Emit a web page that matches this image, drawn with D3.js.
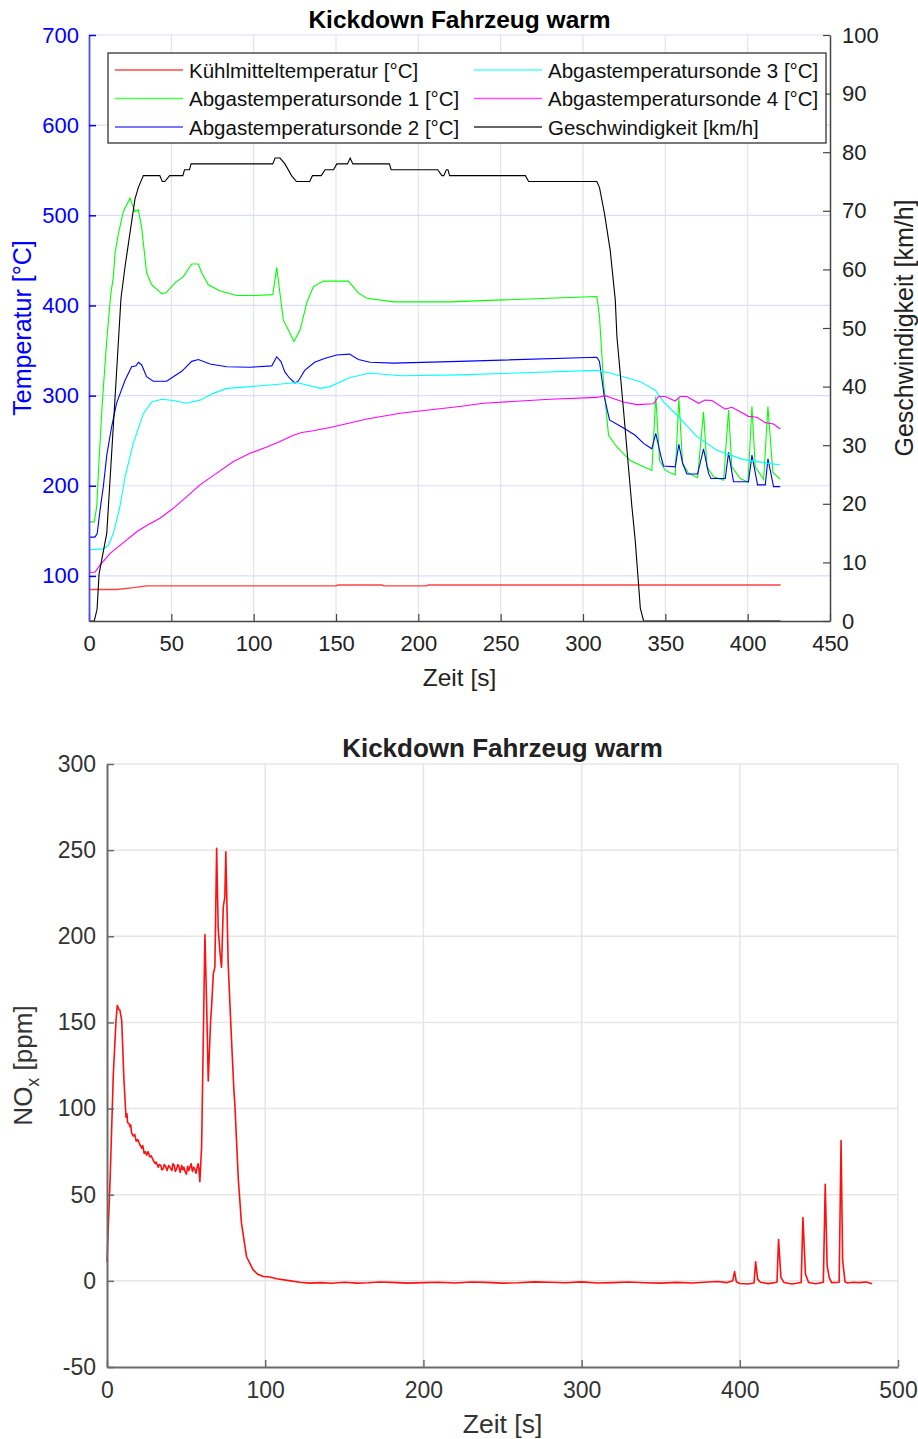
<!DOCTYPE html>
<html>
<head>
<meta charset="utf-8">
<script src="https://cdn.jsdelivr.net/npm/d3@7"></script>
<style>
  body { margin: 0; background: #fff; }
  svg { display: block; font-family: "Liberation Sans", Arial, sans-serif; }
</style>
</head>
<body>
<svg id="chart" width="918" height="1439"></svg>
<script>
// ---- data: top chart (time [s], value) ----
const kuehlmittel = [[0,85],[17,85],[27,87],[35,89],[150,89],[151,90],[178,90],[179,89],[205,89],[206,90],[420,90]];
const sonde1 = [[0,160],[3.2,160],[4.7,177],[6,225],[8,290],[10.8,362],[13.2,412],[14.8,432],[15.8,458],[17.8,479],[20.8,504],[24.9,519],[27.9,504],[30,506],[32,486],[35,436],[38,423],[44.2,413],[46.8,414],[52.2,425],[57.3,432],[62.4,446],[66.4,446],[68.5,436],[72.5,423],[79.6,416],[89.7,411],[99.8,411],[111.6,412],[114,442],[118,384],[121,373],[124.5,360],[128.2,373],[131.2,395],[132.2,403],[136.3,421],[142.3,427],[157.5,427],[163.6,414],[168.7,408],[184.9,404],[219,404],[308.4,410],[310,388],[312.5,314],[315.5,256],[320.6,243],[328.7,228],[336.8,221],[341.8,217],[344.2,299],[346.5,228],[350,217],[356,212],[358.2,297],[360.5,225],[364,214],[369.6,209],[373.2,282],[375.3,221],[379.3,210],[385.4,206],[388.4,284],[390.4,221],[395.5,208],[400.2,204],[402.6,288],[404.6,221],[409.7,207],[412.3,288],[415.3,215],[419.8,207]];
const sonde2 = [[0,143],[3.6,143],[5,147],[6.7,173],[8.7,199],[10.8,234],[13.8,266],[16.8,292],[21.9,317],[25.9,332],[28.6,333],[30,337],[32,334],[35,321],[39,316],[47.2,316],[51.2,321],[56.3,327],[62.4,338],[66.4,340],[73.5,335],[83.6,332],[97.8,331.5],[111,333],[114,343],[116.5,338],[119,326],[122,319],[125,314],[127,316],[131,328],[137,337],[143.4,341.5],[150.5,345],[158.2,346],[163.6,340],[170.7,337],[184.9,336],[225,338],[308.4,342.5],[310,338],[312.9,299],[316.1,273],[324.6,264],[331.7,256],[336.8,247],[341.8,241],[344.2,258],[347.3,233],[348.9,222],[356,221],[358.2,246],[360.5,225],[363.1,213],[369.6,213],[373.2,241],[376.2,214],[377.7,208],[386.4,208],[388.4,237],[391.4,204.5],[400.5,204.5],[402.6,234],[406,201],[410.7,201],[412.3,230],[415.7,199],[419.8,199]];
const sonde3 = [[0,129],[8.7,130],[11.7,134],[14.8,147],[18.8,177],[21.9,210],[26.9,247],[33,280],[38.1,293],[44.2,296],[51.2,294.5],[59.4,291.5],[67.4,295],[75.5,302.5],[83.7,308],[97.8,310],[112,312],[126.2,314.5],[140.3,308],[146.4,310],[158.6,320],[170.7,325],[189,322],[225,323],[308.4,328],[316.5,325],[334.8,315.5],[343.9,306],[348.9,293],[357,278.5],[369.2,254.5],[381.3,239.5],[397.5,229],[419.8,223]];
const sonde4 = [[0,104],[3.6,104],[6.7,112],[12.8,125],[20.9,137],[29,149],[35,156],[43.1,164],[51.2,175],[59.4,188],[67.4,201],[77.6,214],[87.7,227],[97.8,236],[108,243],[116,249],[124.1,256],[129.2,259],[136.3,261],[148.5,265.5],[168.7,274],[189,280.5],[225,288],[239.6,291.5],[280,296],[308.4,298],[313.5,300],[316.5,298],[324.6,293],[332.7,290],[342.8,291],[345.9,299],[349.9,299],[356,294],[359,299],[363.1,299],[370.2,291.5],[374.2,295],[378.3,294.5],[386.4,285],[390.4,287],[395.5,282],[400.5,277],[405.6,276],[410.7,270],[415.7,268.5],[419.8,263]];
const geschw = [[0,0],[3.2,0],[4.9,2],[6.1,8],[10.8,15],[15.8,38],[19.4,55],[21.9,60.5],[27.9,72],[30,74],[33,76],[43,76],[44.5,75],[46,75],[49,76],[57,76],[58,77],[61,77],[62,78],[111.6,78],[113,79],[116,79],[119,78],[123,76],[126,75],[134,75],[135.7,76],[141,76],[143.4,77],[148.5,77],[150.5,78],[157,78],[158.6,79],[160.2,78],[182.4,78],[183.5,77],[211.8,77],[214.3,76],[215.5,76],[217,77],[218,77],[219,76],[265,76],[267,75],[308.4,75],[310,74],[313,69.6],[316.5,63.3],[319.6,54.8],[320.6,48.5],[324.6,36],[329.7,19.5],[331.7,13.8],[333.7,6.4],[334.8,2.2],[336.8,0],[420,0]];

const topSeries = [
  {name: "Kühlmitteltemperatur [°C]", color: "#ff0000", data: kuehlmittel, axis: "left"},
  {name: "Abgastemperatursonde 1 [°C]", color: "#00ff00", data: sonde1, axis: "left"},
  {name: "Abgastemperatursonde 2 [°C]", color: "#0000ff", data: sonde2, axis: "left"},
  {name: "Abgastemperatursonde 3 [°C]", color: "#00ffff", data: sonde3, axis: "left"},
  {name: "Abgastemperatursonde 4 [°C]", color: "#ff00ff", data: sonde4, axis: "left"},
  {name: "Geschwindigkeit [km/h]", color: "#000000", data: geschw, axis: "right"}
];

const topXTicks = [0, 50, 100, 150, 200, 250, 300, 350, 400, 450];
const topYTicks = [100, 200, 300, 400, 500, 600, 700];
const topY2Ticks = [0, 10, 20, 30, 40, 50, 60, 70, 80, 90, 100];

// ---- data: bottom chart NOx [ppm] ----
const nox = [[0,11],[2,60],[4,120],[5.7,151],[6.5,160],[7.3,158],[8.2,157],[9.3,151],[10.7,117],[12,95],[12.6,97],[13,92],[14,91],[14.5,89.5],[15,90.5],[15.5,86],[16.6,84],[17.5,85],[18.5,81],[19.5,82],[20.8,79],[22,77],[22.6,78.5],[23.5,74],[24.3,75],[25,73],[26,75],[27,72],[28,72.5],[29.2,70],[30.5,68],[31,69],[32.4,66],[33,67.5],[34,67],[34.6,64.5],[35.5,65],[36.2,67.5],[37,66.5],[38,64],[39,67],[39.8,66],[41,64],[41.7,68],[42.5,67],[43.2,63.5],[44,65],[44.8,67.5],[45.5,66],[46.3,63],[47.2,67],[48,64.5],[48.6,66],[49.3,63.5],[50.2,62],[51,66.5],[51.7,64],[52.4,66],[53.2,68],[54,63.5],[54.8,66],[55.6,64.5],[56.3,62.5],[57,66],[57.6,68],[58.1,65],[58.7,57.5],[59.8,78],[61.9,201],[63,160],[64,116],[65.5,151],[66.1,159],[67.2,178],[68.2,182],[69.3,251],[70.3,204],[71.5,190],[72.4,182],[73.5,217],[74.5,223],[75.1,249],[76.6,184],[78.7,140],[80.2,111],[80.9,101],[83,59],[85,33.5],[88.2,14],[92.4,6.4],[95,4],[98.7,2.5],[103,2.2],[107.2,1.2],[114,0.3],[121.9,-0.8],[128,-1.3],[135,-1],[142,-1.4],[150,-0.8],[158,-1.3],[165,-1.1],[172,-0.7],[180,-0.9],[190,-1.3],[200,-1],[210,-0.8],[220,-1.2],[230,-0.7],[240,-0.9],[250,-1.3],[260,-1.1],[270,-0.6],[280,-0.8],[290,-1.1],[300,-0.6],[310,-1.2],[320,-1],[330,-0.7],[340,-1.1],[350,-1.3],[360,-0.9],[370,-1.2],[380,-0.7],[386,-0.4],[392,-1],[395.5,0],[396.7,5.4],[397.8,-0.5],[400,-1.5],[405,-1.8],[409,-1.2],[410,11],[411.3,1],[413,-0.8],[418,-1.6],[423.5,-0.8],[424.5,24],[426,2],[428,-1],[433,-1.8],[438.8,-1],[439.9,36.7],[441.5,4],[443.5,-1],[448,-1.7],[452.8,-0.8],[454,56],[455.2,9],[456.5,2],[458,-1],[462.8,-0.8],[464,81.4],[465,12],[466.5,-0.5],[468,-1.2],[472,-0.8],[475,-1],[480,-0.7],[483.7,-1.7]];

const botXTicks = [0, 100, 200, 300, 400, 500];
const botYTicks = [-50, 0, 50, 100, 150, 200, 250, 300];

const svg = d3.select('#chart');

// =========== top chart ===========
const tp = {left: 89, right: 830, top: 35, bottom: 621};

const x1 = d3.scaleLinear().domain([0, 450]).range([tp.left, tp.right]);
const y1 = d3.scaleLinear().domain([50, 700]).range([tp.bottom, tp.top]);
const y2 = d3.scaleLinear().domain([0, 100]).range([tp.bottom, tp.top]);

const topG = svg.append('g');

// grid
topG.append('g').selectAll('line').data(topXTicks.slice(1, -1)).join('line')
  .attr('x1', d => x1(d)).attr('x2', d => x1(d))
  .attr('y1', tp.top).attr('y2', tp.bottom)
  .attr('stroke', '#e3e3ea').attr('stroke-width', 1.2);
topG.append('g').selectAll('line').data(topYTicks).join('line')
  .attr('x1', tp.left).attr('x2', tp.right)
  .attr('y1', d => y1(d)).attr('y2', d => y1(d))
  .attr('stroke', '#dcdcfa').attr('stroke-width', 1.2);

// lines
topG.append('g').selectAll('path').data(topSeries).join('path')
  .attr('fill', 'none')
  .attr('stroke', d => d.color)
  .attr('stroke-width', d => d.color === '#ff0000' ? 1.4 : 1.1)
  .attr('stroke-opacity', d => d.color === '#ff0000' ? 0.75 : 1)
  .attr('d', d => {
    const ys = d.axis === 'left' ? y1 : y2;
    return d3.line().x(p => x1(p[0])).y(p => ys(p[1]))(d.data);
  });

// axes
const xAxis1 = topG.append('g').attr('transform', `translate(0,${tp.bottom})`)
  .call(d3.axisBottom(x1).tickValues(topXTicks).tickSizeInner(-7).tickSizeOuter(0).tickPadding(14));
xAxis1.select('.domain').attr('stroke', '#444').attr('stroke-width', 1.5);
xAxis1.selectAll('.tick line').attr('stroke', '#444').attr('stroke-width', 1.2);
xAxis1.selectAll('text').attr('font-size', 22).attr('fill', '#222').attr('font-family', 'Liberation Sans, Arial, sans-serif');

const yAxis1 = topG.append('g').attr('transform', `translate(${tp.left},0)`)
  .call(d3.axisLeft(y1).tickValues(topYTicks).tickSizeInner(-7).tickSizeOuter(0).tickPadding(10));
yAxis1.select('.domain').attr('stroke', '#4a4aff').attr('stroke-width', 1.8);
yAxis1.selectAll('.tick line').attr('stroke', '#0000ff').attr('stroke-width', 1.5);
yAxis1.selectAll('text').attr('font-size', 22).attr('fill', '#0000ff').attr('font-family', 'Liberation Sans, Arial, sans-serif');

const yAxis2 = topG.append('g').attr('transform', `translate(${tp.right},0)`)
  .call(d3.axisRight(y2).tickValues(topY2Ticks).tickSizeInner(-7).tickSizeOuter(0).tickPadding(12));
yAxis2.select('.domain').attr('stroke', '#444').attr('stroke-width', 1.5);
yAxis2.selectAll('.tick line').attr('stroke', '#444').attr('stroke-width', 1.2);
yAxis2.selectAll('text').attr('font-size', 22).attr('fill', '#222').attr('font-family', 'Liberation Sans, Arial, sans-serif');

// labels
topG.append('text').attr('x', (tp.left + tp.right) / 2).attr('y', 28)
  .attr('text-anchor', 'middle').attr('font-size', 24.5).attr('font-weight', 'bold')
  .text('Kickdown Fahrzeug warm');
topG.append('text').attr('x', (tp.left + tp.right) / 2).attr('y', 686)
  .attr('text-anchor', 'middle').attr('font-size', 24.5).attr('fill', '#222')
  .text('Zeit [s]');
topG.append('text').attr('transform', `translate(31,${(tp.top + tp.bottom) / 2}) rotate(-90)`)
  .attr('text-anchor', 'middle').attr('font-size', 25).attr('fill', '#0000ff')
  .text('Temperatur [°C]');
topG.append('text').attr('transform', `translate(913,${(tp.top + tp.bottom) / 2}) rotate(-90)`)
  .attr('text-anchor', 'middle').attr('font-size', 25).attr('fill', '#222')
  .text('Geschwindigkeit [km/h]');

// legend
const legend = topG.append('g');
legend.append('rect').attr('x', 108).attr('y', 53).attr('width', 718).attr('height', 90)
  .attr('fill', '#fff').attr('stroke', '#333').attr('stroke-width', 1.3);
const legItems = legend.selectAll('g').data(topSeries).join('g')
  .attr('transform', (d, i) => `translate(${i < 3 ? 115 : 474},${70 + (i % 3) * 28.5})`);
legItems.append('line').attr('x1', 0).attr('x2', 68).attr('y1', 0).attr('y2', 0)
  .attr('stroke', d => d.color).attr('stroke-width', 1.3)
  .attr('stroke-opacity', d => d.color === '#000000' ? 0.8 : 0.7);
legItems.append('text').attr('x', 74).attr('y', 7.5).attr('font-size', 20.5).attr('fill', '#111')
  .text(d => d.name);

// =========== bottom chart ===========
const bp = {left: 107, right: 898, top: 764, bottom: 1367};
const x3 = d3.scaleLinear().domain([0, 500]).range([bp.left, bp.right]);
const y3 = d3.scaleLinear().domain([-50, 300]).range([bp.bottom, bp.top]);

const botG = svg.append('g');

botG.append('g').selectAll('line').data(botXTicks.slice(1)).join('line')
  .attr('x1', d => x3(d)).attr('x2', d => x3(d))
  .attr('y1', bp.top).attr('y2', bp.bottom)
  .attr('stroke', '#e6e6e6').attr('stroke-width', 1.5);
botG.append('g').selectAll('line').data(botYTicks.slice(1)).join('line')
  .attr('x1', bp.left).attr('x2', bp.right)
  .attr('y1', d => y3(d)).attr('y2', d => y3(d))
  .attr('stroke', '#e6e6e6').attr('stroke-width', 1.5);

botG.append('path').datum(nox)
  .attr('fill', 'none').attr('stroke', '#ff1010').attr('stroke-width', 1.6)
  .attr('stroke-linejoin', 'round')
  .attr('d', d3.line().x(p => x3(p[0])).y(p => y3(p[1])));

const xAxis3 = botG.append('g').attr('transform', `translate(0,${bp.bottom})`)
  .call(d3.axisBottom(x3).tickValues(botXTicks).tickFormat(d => String(d)).tickSizeInner(-7).tickSizeOuter(0).tickPadding(15));
xAxis3.select('.domain').attr('stroke', '#6a6a6a').attr('stroke-width', 2);
xAxis3.selectAll('.tick line').attr('stroke', '#6a6a6a').attr('stroke-width', 1.5);
xAxis3.selectAll('text').attr('font-size', 23).attr('fill', '#333').attr('font-family', 'Liberation Sans, Arial, sans-serif');

const yAxis3 = botG.append('g').attr('transform', `translate(${bp.left},0)`)
  .call(d3.axisLeft(y3).tickValues(botYTicks).tickFormat(d => String(d)).tickSizeInner(-7).tickSizeOuter(0).tickPadding(11));
yAxis3.select('.domain').attr('stroke', '#6a6a6a').attr('stroke-width', 2);
yAxis3.selectAll('.tick line').attr('stroke', '#6a6a6a').attr('stroke-width', 1.5);
yAxis3.selectAll('text').attr('font-size', 23).attr('fill', '#333').attr('font-family', 'Liberation Sans, Arial, sans-serif');

botG.append('text').attr('x', (bp.left + bp.right) / 2).attr('y', 757)
  .attr('text-anchor', 'middle').attr('font-size', 26).attr('font-weight', 'bold').attr('fill', '#222')
  .text('Kickdown Fahrzeug warm');
botG.append('text').attr('x', (bp.left + bp.right) / 2).attr('y', 1433)
  .attr('text-anchor', 'middle').attr('font-size', 26.5).attr('fill', '#333')
  .text('Zeit [s]');
const yl = botG.append('text').attr('transform', `translate(32,${(bp.top + bp.bottom) / 2}) rotate(-90)`)
  .attr('text-anchor', 'middle').attr('font-size', 26).attr('fill', '#333');
yl.append('tspan').text('NO');
yl.append('tspan').attr('font-size', 18).attr('dy', 7).text('x');
yl.append('tspan').attr('dy', -7).text(' [ppm]');
</script>
</body>
</html>
